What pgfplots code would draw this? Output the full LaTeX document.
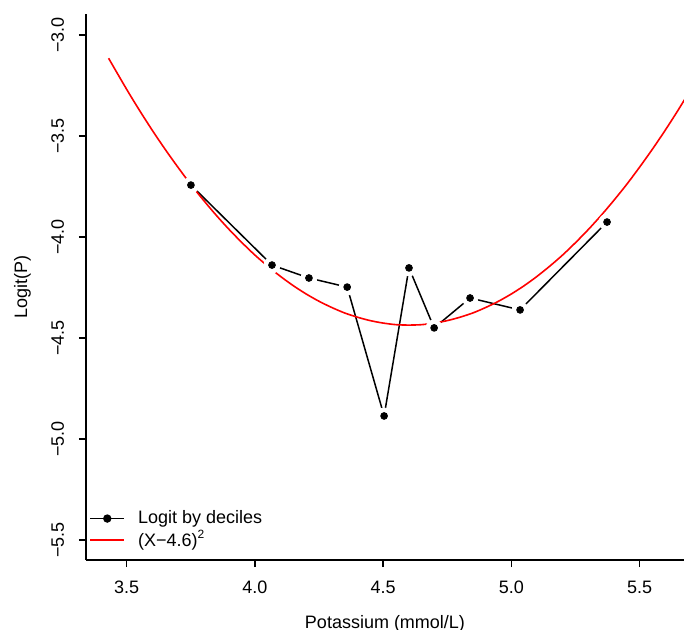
\documentclass[border=0pt]{standalone}
\usepackage{fontspec}
\setmainfont{Liberation Sans}
\usepackage{pgfplots}
\pgfplotsset{compat=1.18}

\begin{document}
\begin{tikzpicture}[font=\fontsize{9}{10.8}\selectfont]
\begin{axis}[
  scale only axis,
  width=299pt, height=273pt,
  xmin=3.342, xmax=5.673,
  ymin=-5.599, ymax=-2.896,
  axis lines*=left,
  axis line style={line width=0.9pt},
  tick style={black, line width=0.7pt},
  tick align=outside,
  major tick length=3.6pt,
  xtick={3.5,4.0,4.5,5.0,5.5},
  xticklabels={3.5,4.0,4.5,5.0,5.5},
  ytick={-5.5,-5.0,-4.5,-4.0,-3.5,-3.0},
  yticklabels={−5.5,−5.0,−4.5,−4.0,−3.5,−3.0},
  yticklabel style={rotate=90, anchor=south, inner ysep=7.2pt},
  xticklabel style={yshift=-3.2pt},
  xlabel={Potassium (mmol/L)},
  ylabel={Logit(P)},
  xlabel style={yshift=-4pt},
  ylabel style={yshift=-0.5pt},
  legend style={draw=none, fill=none, at={(0.0,0.0)}, anchor=south west,
    xshift=-1.5pt, yshift=1pt,
    row sep=-2pt, column sep=4.5pt, font=\fontsize{9}{10.8}\selectfont},
  legend cell align=left,
  clip=true,
]
% black series: line and dots
\addplot[forget plot, black, line width=0.75pt, no marks] coordinates {
(3.751,-3.743) (4.067,-4.139) (4.211,-4.203) (4.360,-4.248) (4.504,-4.886)
(4.601,-4.153) (4.699,-4.450) (4.839,-4.302) (5.034,-4.361) (5.373,-3.926)
};
% white gaps round the points (type = "b")
\addplot[forget plot, only marks, mark=*, mark size=4pt, white] coordinates {
(3.751,-3.743) (4.067,-4.139) (4.211,-4.203) (4.360,-4.248) (4.504,-4.886)
(4.601,-4.153) (4.699,-4.450) (4.839,-4.302) (5.034,-4.361) (5.373,-3.926)
};
\addplot[forget plot, only marks, mark=*, mark size=1.7pt, black] coordinates {
(3.751,-3.743) (4.067,-4.139) (4.211,-4.203) (4.360,-4.248) (4.504,-4.886)
(4.601,-4.153) (4.699,-4.450) (4.839,-4.302) (5.034,-4.361) (5.373,-3.926)
};
% fitted curve
\addplot[forget plot, red, line width=0.8pt, no marks, smooth] coordinates {
(3.43,-3.115) (3.50,-3.268) (3.55,-3.372) (3.60,-3.471) (3.65,-3.565)
(3.70,-3.654) (3.75,-3.739) (3.80,-3.818) (3.85,-3.893) (3.90,-3.963)
(3.95,-4.028) (4.00,-4.089) (4.05,-4.144) (4.10,-4.195) (4.15,-4.241)
(4.20,-4.282) (4.25,-4.318) (4.30,-4.349) (4.35,-4.376) (4.40,-4.397)
(4.45,-4.414) (4.50,-4.426) (4.55,-4.434) (4.60,-4.436) (4.65,-4.434)
(4.70,-4.426) (4.75,-4.414) (4.80,-4.397) (4.85,-4.376) (4.90,-4.349)
(4.95,-4.318) (5.00,-4.282) (5.05,-4.241) (5.10,-4.195) (5.15,-4.144)
(5.20,-4.089) (5.25,-4.028) (5.30,-3.963) (5.35,-3.893) (5.40,-3.818)
(5.45,-3.739) (5.50,-3.654) (5.55,-3.565) (5.60,-3.471) (5.65,-3.372)
(5.70,-3.268)
};
\addlegendimage{black, line width=0.75pt, mark=*, mark size=1.7pt}
\addlegendentry{Logit by deciles}
\addlegendimage{red, line width=0.8pt}
\addlegendentry{(X−4.6)\textsuperscript{2}}
\end{axis}
\pgfresetboundingbox
\path[use as bounding box] (-43pt,-35pt) rectangle (299pt,280pt);
\end{tikzpicture}
\end{document}
